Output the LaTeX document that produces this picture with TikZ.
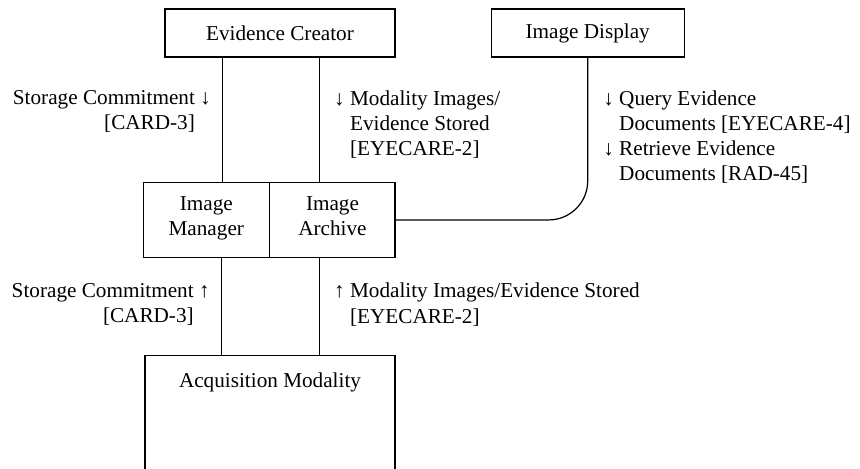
\documentclass[tikz,border=0pt]{standalone}
\usepackage{fontspec}
\setmainfont{Liberation Serif}
\usepackage{tikz}
\usetikzlibrary{shapes,positioning,calc}
\tikzstyle{link} = [line width=0.6pt]
\tikzstyle{txn} = [inner sep=0pt]

\begin{document}
\begin{tikzpicture}[every node/.style={font=\fontsize{10.6}{12.6}\selectfont},
	actor/.style={draw, line width=0.6pt, minimum height=24pt, align=center},
	actorpair/.style={rectangle split, rectangle split parts=#1, rectangle split horizontal, draw, line width=0.6pt, align=center, text width=56pt, inner xsep=3.25pt, inner ysep=7.2pt}]
	
	\clip (0,0) rectangle (430pt,-234pt);
	
	% ACTORS
	
	\node [actor, minimum width=115pt] (ec) at (140pt,-16.5pt) {Evidence Creator};
	
	\node [actor, minimum width=96.5pt, right=47.5pt of ec] (id) {Image Display};
	
	\node [actorpair=2, below=62pt of ec.south east, anchor=north east] (ima)
	{%
		\nodepart{one} Image\\Manager\strut
		\nodepart{two} Image\\Archive\strut};
	
	\node [actor, minimum width=125pt, text height=15.85pt, text depth=47pt, inner ysep=0pt, below=48.5pt of ima.south east, anchor=north east] (am) {Acquisition Modality};
	
	% TRANSACTIONS
	
	\draw [link] ([xshift=29pt]ec.south west) -- node[txn, pos=0.26, anchor=north east, xshift=-5.5pt, align=right] {Storage Commitment~↓\\{}[CARD-3]\phantom{~↓}} ([xshift=29pt]ec.south west |- ima.north);
	
	\draw [link] ([xshift=-38pt]ec.south east) -- node[txn, pos=0.26, anchor=north west, xshift=7pt, align=left] {↓~Modality Images/\\\phantom{↓~}Evidence Stored\\\phantom{↓~}[EYECARE-2]} ([xshift=-38pt]ec.south east |- ima.north);
	
	\draw [link, rounded corners=19.5pt] (id.south) |- node[txn, pos=0.1, anchor=north west, xshift=7.5pt, align=left] {↓~Query Evidence\\\phantom{↓~}Documents [EYECARE-4]\\↓~Retrieve Evidence\\\phantom{↓~}Documents [RAD-45]} (ima.east);
	
	\draw [link] ([xshift=39pt]ima.south west) -- node[txn, pos=0.25, anchor=north east, xshift=-5.5pt, align=right] {Storage Commitment~↑\\{}[CARD-3]\phantom{~↑}} ([xshift=39pt]ima.south west |- am.north);
	
	\draw [link] ([xshift=-38pt]ima.south east) -- node[txn, pos=0.25, anchor=north west, xshift=7pt, align=left] {↑~Modality Images/Evidence Stored\\\phantom{↑~}[EYECARE-2]} ([xshift=-38pt]ima.south east |- am.north);
	
\end{tikzpicture}
\end{document}
